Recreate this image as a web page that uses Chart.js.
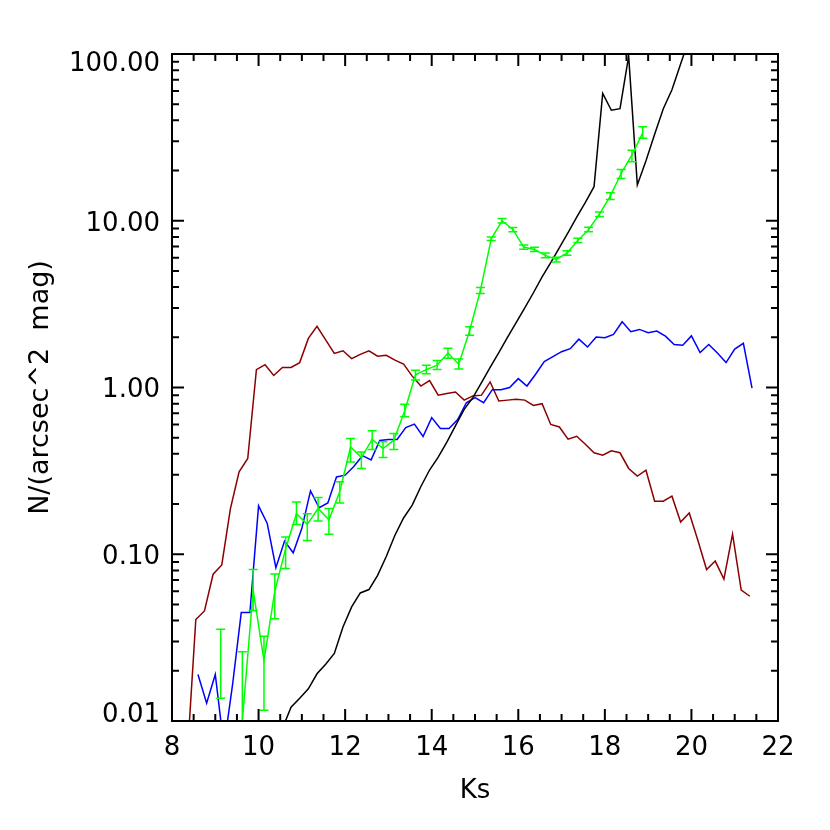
<!DOCTYPE html>
<html lang="pt-BR">
<head>
<meta charset="utf-8">
<title>Contagens por magnitude Ks</title>
<script src="https://cdn.jsdelivr.net/npm/chart.js@4.4.1/dist/chart.umd.min.js"></script>
<style>
    html, body { margin: 0; padding: 0; background: #ffffff; }
    canvas { display: block; }
</style>
</head>
<body>
<canvas id="graficoContagens" width="830" height="830"></canvas>
<script>
/**
 * Contagens N/(arcsec^2 mag) em função de Ks.
 * Quatro curvas em eixo log; a verde tem barras de erro.
 */

// --- Dados ---

// Curva vermelho-escura (bins de 0.2 mag)
const vermelhoX = [8.35, 8.55, 8.75, 8.95, 9.15, 9.35, 9.55, 9.75, 9.95, 10.15, 10.35, 10.55, 10.75, 10.95,
    11.15, 11.35, 11.55, 11.75, 11.95, 12.15, 12.35, 12.55, 12.75, 12.95, 13.15, 13.35, 13.55, 13.75, 13.95,
    14.15, 14.35, 14.55, 14.75, 14.95, 15.15, 15.35, 15.55, 15.75, 15.95, 16.15, 16.35, 16.55, 16.75, 16.95,
    17.15, 17.35, 17.55, 17.75, 17.95, 18.15, 18.35, 18.55, 18.75, 18.95, 19.15, 19.35, 19.55, 19.75, 19.95,
    20.15, 20.35, 20.55, 20.75, 20.95, 21.15, 21.35];
const vermelhoY = [0.006, 0.0406, 0.0457, 0.0759, 0.0863, 0.188, 0.312, 0.375, 1.28, 1.37, 1.18, 1.32, 1.32, 1.41,
    1.97, 2.33, 1.93, 1.60, 1.66, 1.49, 1.58, 1.66, 1.54, 1.56, 1.46, 1.38, 1.17, 1.02, 1.10,
    0.90, 0.92, 0.94, 0.84, 0.89, 0.90, 1.08, 0.83, 0.84, 0.85, 0.84, 0.78, 0.80, 0.60, 0.58,
    0.49, 0.51, 0.457, 0.406, 0.393, 0.417, 0.406, 0.327, 0.294, 0.319, 0.208, 0.208, 0.223, 0.156, 0.177,
    0.121, 0.081, 0.091, 0.071, 0.132, 0.061, 0.056];

// Curva azul (bins de 0.2 mag)
const azulX = [8.6, 8.8, 9.0, 9.2, 9.4, 9.6, 9.8, 10.0, 10.2, 10.4, 10.6, 10.8, 11.0, 11.2, 11.4, 11.6, 11.8,
    12.0, 12.2, 12.4, 12.6, 12.8, 13.0, 13.2, 13.4, 13.6, 13.8, 14.0, 14.2, 14.4, 14.6, 14.8, 15.0, 15.2,
    15.4, 15.6, 15.8, 16.0, 16.2, 16.4, 16.6, 16.8, 17.0, 17.2, 17.4, 17.6, 17.8, 18.0, 18.2, 18.4, 18.6,
    18.8, 19.0, 19.2, 19.4, 19.6, 19.8, 20.0, 20.2, 20.4, 20.6, 20.8, 21.0, 21.2, 21.4];
const azulY = [0.019, 0.0128, 0.019, 0.007, 0.0166, 0.0447, 0.0447, 0.195, 0.153, 0.083, 0.120, 0.102, 0.143, 0.24, 0.19, 0.203, 0.291,
    0.298, 0.336, 0.39, 0.368, 0.481, 0.488, 0.488, 0.575, 0.603, 0.508, 0.66, 0.568, 0.568, 0.643, 0.81, 0.87, 0.81,
    0.97, 0.97, 1.0, 1.13, 1.02, 1.2, 1.43, 1.53, 1.64, 1.71, 1.95, 1.75, 2.01, 1.99, 2.08, 2.48, 2.16,
    2.23, 2.13, 2.18, 2.03, 1.81, 1.79, 2.04, 1.62, 1.81, 1.61, 1.41, 1.70, 1.84, 0.99];

// Curva preta (modelo)
const pretoX = [10.55, 10.75, 10.95, 11.15, 11.35, 11.55, 11.75, 11.95, 12.15, 12.35, 12.55, 12.75, 12.95,
    13.15, 13.35, 13.55, 13.75, 13.95, 14.15, 14.35, 14.55, 14.75, 14.95, 15.15, 15.35, 15.55, 15.75, 15.95,
    16.15, 16.35, 16.55, 16.75, 16.95, 17.15, 17.35, 17.55, 17.75, 17.95, 18.15, 18.35, 18.55, 18.75, 18.95,
    19.15, 19.35, 19.55, 19.75, 19.95];
const pretoY = [0.009, 0.0121, 0.0137, 0.0156, 0.0192, 0.0219, 0.0254, 0.0366, 0.0483, 0.0586, 0.0614, 0.0748, 0.097,
    0.13, 0.165, 0.197, 0.255, 0.32, 0.382, 0.47, 0.59, 0.74, 0.87, 1.07, 1.32, 1.62, 2.0, 2.45,
    3.0, 3.7, 4.6, 5.6, 6.9, 8.5, 10.5, 12.9, 16.0, 58, 46, 47, 97, 16.4, 22.9,
    33, 47, 61, 87, 124];

// Curva verde (bins de 0.25 mag) com limites das barras de erro
const verdeX = [7.875, 8.125, 8.375, 8.625, 8.875, 9.125, 9.375, 9.625, 9.875, 10.125, 10.375, 10.625, 10.875,
    11.125, 11.375, 11.625, 11.875, 12.125, 12.375, 12.625, 12.875, 13.125, 13.375, 13.625, 13.875, 14.125,
    14.375, 14.625, 14.875, 15.125, 15.375, 15.625, 15.875, 16.125, 16.375, 16.625, 16.875, 17.125, 17.375,
    17.625, 17.875, 18.125, 18.375, 18.625, 18.875];
const verdeY = [0.01, 0.01, 0.01, 0.01, 0.01, 0.01, 0.01, 0.01, 0.061, 0.023, 0.06, 0.108, 0.175,
    0.151, 0.188, 0.161, 0.237, 0.44, 0.38, 0.488, 0.43, 0.483, 0.724, 1.19, 1.28, 1.36,
    1.61, 1.38, 2.19, 3.82, 7.8, 10.0, 8.87, 6.95, 6.73, 6.2, 5.86, 6.4, 7.62,
    8.87, 10.96, 14.06, 19.2, 24.8, 33.7];
const verdeErroMin = [null, null, null, null, null, 0.0137, null, 0.001, 0.046, 0.0116, 0.041, 0.082, 0.151,
    0.121, 0.158, 0.132, 0.203, 0.358, 0.327, 0.425, 0.38, 0.425, 0.667, 1.11, 1.21, 1.28,
    1.50, 1.29, 2.06, 3.66, 7.6, 9.7, 8.6, 6.75, 6.53, 6.0, 5.65, 6.2, 7.4,
    8.6, 10.6, 13.4, 17.9, 22.6, 31.2];
const verdeErroMax = [null, null, null, null, null, 0.0355, null, 0.026, 0.081, 0.0322, 0.076, 0.127, 0.206,
    0.175, 0.219, 0.188, 0.272, 0.494, 0.411, 0.55, 0.472, 0.53, 0.794, 1.27, 1.36, 1.45,
    1.72, 1.48, 2.31, 3.98, 8.0, 10.3, 9.1, 7.15, 6.93, 6.4, 6.05, 6.6, 7.85,
    9.15, 11.3, 14.7, 20.3, 26.5, 36.6];

// Rótulos do eixo Y
const yTicksValores = [0.01, 0.1, 1, 10, 100];
const yTicksRotulos = ['0.01', '0.10', '1.00', '10.00', '100.00'];

// --- Estilo ---
const FONTE = { family: 'DejaVu Sans', size: 26, weight: 'normal' };
const FONTE_TITULO = { family: 'DejaVu Sans', size: 27, weight: 'normal' };

/**
 * Junta dois arrays (x, y) em pontos {x, y} para o Chart.js.
 */
function montarPontos(xs, ys) {
    return xs.map((x, i) => ({ x: x, y: ys[i] }));
}

/**
 * Plugin que desenha barras de erro, moldura com ticks internos (nos 4 lados)
 * e os rótulos do eixo Y.
 */
const pluginMoldura = {
    id: 'moldura',
    afterDatasetsDraw(chart) {
        const { ctx, chartArea: a, scales: { x, y } } = chart;

        // Barras de erro da curva verde
        ctx.save();
        ctx.beginPath();
        ctx.rect(a.left, a.top, a.right - a.left, a.bottom - a.top);
        ctx.clip();
        ctx.strokeStyle = '#00ff00';
        ctx.lineWidth = 1.5;
        verdeX.forEach((xv, i) => {
            if (verdeErroMin[i] === null) return;
            const px = x.getPixelForValue(xv);
            const pMin = y.getPixelForValue(verdeErroMin[i]);
            const pMax = y.getPixelForValue(verdeErroMax[i]);
            ctx.beginPath();
            ctx.moveTo(px, pMin); ctx.lineTo(px, pMax);
            ctx.moveTo(px - 4.5, pMin); ctx.lineTo(px + 4.5, pMin);
            ctx.moveTo(px - 4.5, pMax); ctx.lineTo(px + 4.5, pMax);
            ctx.stroke();
        });
        ctx.restore();
    },
    afterDraw(chart) {
        const { ctx, chartArea: a, scales: { x, y } } = chart;
        ctx.save();
        ctx.strokeStyle = '#000000';
        ctx.lineWidth = 2;

        // Moldura
        ctx.strokeRect(a.left, a.top, a.right - a.left, a.bottom - a.top);

        ctx.beginPath();
        // Ticks do eixo X (maiores a cada 2, menores a cada 0.5)
        for (let v = x.min; v <= x.max + 1e-9; v += 0.5) {
            const px = x.getPixelForValue(v);
            const tam = Math.abs(v % 2) < 1e-9 ? 12 : 7;
            ctx.moveTo(px, a.bottom); ctx.lineTo(px, a.bottom - tam);
            ctx.moveTo(px, a.top); ctx.lineTo(px, a.top + tam);
        }
        // Ticks do eixo Y (décadas e subdivisões 2..9)
        yTicksValores.forEach((dec, k) => {
            for (let m = 1; m <= 9; m++) {
                if (k === yTicksValores.length - 1 && m > 1) break;
                const py = y.getPixelForValue(dec * m);
                const tam = m === 1 ? 12 : 7;
                ctx.moveTo(a.left, py); ctx.lineTo(a.left + tam, py);
                ctx.moveTo(a.right, py); ctx.lineTo(a.right - tam, py);
            }
        });
        ctx.stroke();

        // Rótulos do eixo Y (mantidos dentro da altura do eixo)
        ctx.fillStyle = '#000000';
        ctx.font = `${FONTE.weight} ${FONTE.size}px "${FONTE.family}"`;
        ctx.textAlign = 'right';
        ctx.textBaseline = 'middle';
        yTicksValores.forEach((v, i) => {
            let py = y.getPixelForValue(v) + 3;
            py = Math.min(Math.max(py, a.top + 10), a.bottom - 6);
            ctx.fillText(yTicksRotulos[i], a.left - 12, py);
        });
        ctx.restore();
    }
};

// --- Criação do gráfico ---
const grafico = new Chart(document.getElementById('graficoContagens'), {
    type: 'line',
    data: {
        datasets: [
            { label: 'verde', data: montarPontos(verdeX, verdeY), borderColor: '#00ff00' },
            { label: 'preto', data: montarPontos(pretoX, pretoY), borderColor: '#000000' },
            { label: 'azul', data: montarPontos(azulX, azulY), borderColor: '#0000ff' },
            { label: 'vermelho', data: montarPontos(vermelhoX, vermelhoY), borderColor: '#8b0000' }
        ]
    },
    options: {
        responsive: false,
        animation: false,
        devicePixelRatio: 1,
        layout: { padding: { top: 54, right: 52, left: 0, bottom: 0 } },
        elements: {
            point: { radius: 0 },
            line: { borderWidth: 1.5, tension: 0, fill: false }
        },
        plugins: {
            legend: { display: false },
            tooltip: { enabled: false }
        },
        scales: {
            x: {
                type: 'linear',
                min: 8,
                max: 22,
                grid: { display: false, drawTicks: false },
                border: { display: false },
                ticks: { stepSize: 2, font: FONTE, color: '#000000', padding: 12, maxRotation: 0 },
                title: { display: true, text: 'Ks', font: FONTE, color: '#000000', padding: { top: 0, bottom: 23 } },
                afterFit: (escala) => { escala.height = 109; }
            },
            y: {
                type: 'logarithmic',
                min: 0.01,
                max: 100,
                grid: { display: false, drawTicks: false },
                border: { display: false },
                ticks: { display: false },
                title: { display: true, text: 'N/(arcsec^2  mag)', font: FONTE_TITULO, color: '#000000', padding: { top: 25, bottom: 0 } },
                afterFit: (escala) => { escala.width = 172; }
            }
        }
    },
    plugins: [pluginMoldura]
});
</script>
</body>
</html>
